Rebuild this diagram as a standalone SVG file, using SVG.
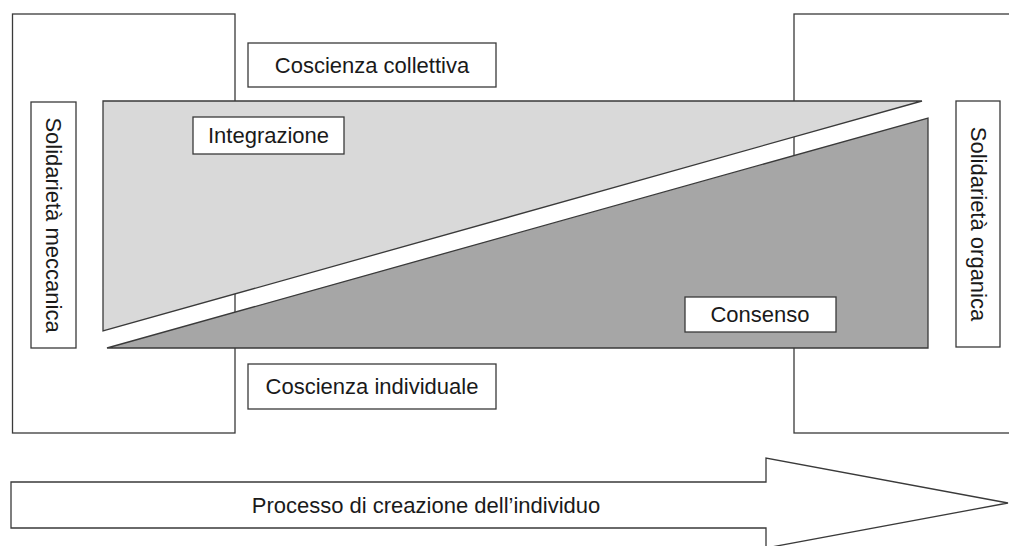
<svg xmlns="http://www.w3.org/2000/svg" width="1009" height="546" viewBox="0 0 1009 546">
<style>
.ln{stroke:#3a3a3a;stroke-width:1.3;}
.box{fill:#ffffff;stroke:#3a3a3a;stroke-width:1.3;}
.t{font-family:"Liberation Sans",Arial,sans-serif;font-size:22px;fill:#1a1a1a;text-anchor:middle;}
</style>
<rect width="1009" height="546" fill="#ffffff"/>
<g id="frame-mechanical"><rect class="box" x="12.5" y="14" width="222.5" height="419"/></g>
<g id="frame-organic"><rect class="box" x="794" y="14" width="300" height="419"/></g>
<g id="integration-wedge"><polygon class="ln" fill="#d9d9d9" points="103,101 922,101 103,331"/></g>
<g id="consensus-wedge"><polygon class="ln" fill="#a6a6a6" points="107,348 928,118 928,348"/></g>
<g id="solidarieta-meccanica">
<rect class="box" x="31" y="102" width="45" height="246"/>
<text class="t" transform="translate(45.5,225) rotate(90)" x="0" y="0">Solidarietà meccanica</text>
</g>
<g id="solidarieta-organica">
<rect class="box" x="956" y="101" width="44" height="246"/>
<text class="t" transform="translate(970.5,224) rotate(90)" x="0" y="0">Solidarietà organica</text>
</g>
<g id="coscienza-collettiva">
<rect class="box" x="248" y="43" width="248" height="44"/>
<text class="t" x="372" y="73">Coscienza collettiva</text>
</g>
<g id="integrazione">
<rect class="box" x="193" y="117" width="151" height="37"/>
<text class="t" x="268.5" y="143">Integrazione</text>
</g>
<g id="consenso">
<rect class="box" x="685" y="297" width="151" height="35"/>
<text class="t" x="760" y="322">Consenso</text>
</g>
<g id="coscienza-individuale">
<rect class="box" x="248" y="364" width="248" height="45"/>
<text class="t" x="372" y="394">Coscienza individuale</text>
</g>
<g id="processo">
<polygon class="box" points="11,482 766,482 766,458 1008,503 766,548 766,528 11,528"/>
<text class="t" x="426" y="513">Processo di creazione dell’individuo</text>
</g>
<g id="connectors"></g>
</svg>
